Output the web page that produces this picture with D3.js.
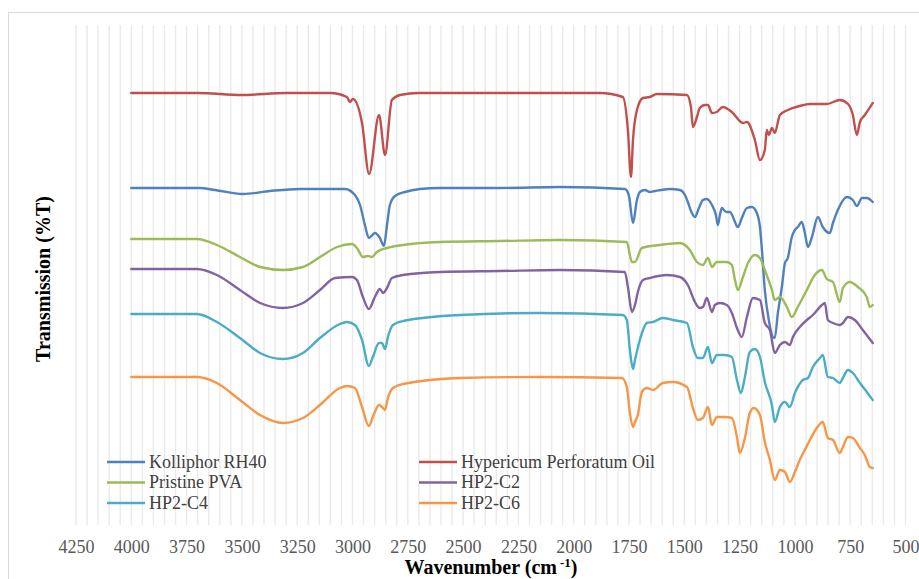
<!DOCTYPE html>
<html>
<head>
<meta charset="utf-8">
<script src="https://cdn.jsdelivr.net/npm/d3@7"></script>
<style>
  body { margin: 0; background: #fff; }
</style>
</head>
<body>
<div id="chart"></div>
<script>
// FTIR spectra. [wavenumber cm-1, offset transmission (a.u.)]
var kolliphor = [[4000,337],[3690,337],[3622,335],[3495,331],[3373,334],[3238,336],[3034,336],[2989,330],[2966,320],[2944,300],[2926,287],[2899,292],[2876,287],[2858,279],[2844,300],[2831,320],[2808,329],[2763,333],[2695,336],[2605,337],[2334,337],[2062,338],[1769,336],[1751,330],[1732,302],[1714,325],[1701,333],[1678,335],[1656,333],[1633,334],[1565,336],[1520,335],[1497,330],[1484,323],[1466,312],[1452,308],[1434,317],[1416,325],[1398,326],[1375,320],[1357,310],[1348,300],[1339,310],[1330,317],[1317,314],[1308,313],[1294,313],[1280,308],[1271,303],[1258,298],[1240,307],[1217,317],[1195,318],[1172,312],[1158,298],[1149,275],[1136,235],[1118,205],[1100,188],[1091,187],[1077,212],[1059,238],[1045,262],[1032,267],[1014,288],[1000,295],[987,298],[969,303],[955,292],[941,278],[923,288],[896,308],[874,298],[842,292],[828,302],[806,315],[765,328],[738,325],[720,319],[697,327],[675,327],[648,323]];

var hypericum = [[4000,432],[3700,432],[3500,430],[3300,432],[3100,432],[3025,428],[3012,423],[2998,426],[2957,402],[2925,351],[2880,410],[2853,370],[2822,425],[2785,430],[2700,432],[2400,432],[2100,432],[1882,432],[1778,428],[1755,395],[1741,348],[1732,385],[1714,415],[1687,427],[1656,428],[1624,431],[1488,430],[1470,418],[1461,398],[1443,408],[1430,417],[1407,420],[1393,420],[1375,412],[1353,413],[1326,418],[1285,413],[1235,402],[1217,403],[1181,385],[1158,365],[1136,375],[1127,395],[1118,390],[1104,397],[1091,392],[1068,410],[1032,415],[978,419],[932,421],[856,421],[797,425],[760,421],[738,410],[720,390],[706,403],[684,410],[648,422]];

var pristinePVA = [[4000,286],[3703,286],[3613,280],[3509,268],[3418,258],[3314,255],[3224,258],[3147,268],[3070,278],[3002,281],[2980,277],[2953,268],[2930,269],[2912,268],[2890,273],[2844,277],[2772,280],[2605,283],[2334,284],[2062,285],[1760,283],[1737,263],[1723,263],[1692,277],[1610,280],[1520,282],[1475,275],[1443,263],[1416,260],[1393,267],[1375,258],[1353,263],[1308,263],[1285,260],[1271,245],[1258,235],[1235,248],[1212,262],[1181,270],[1158,267],[1136,255],[1104,235],[1091,225],[1068,228],[1036,218],[1014,208],[987,218],[946,235],[910,250],[878,255],[856,246],[828,243],[797,223],[783,237],[752,243],[715,238],[675,228],[661,218],[648,220]];

var hp2c2 = [[4000,256],[3703,256],[3613,250],[3509,235],[3418,222],[3314,217],[3224,222],[3147,235],[3079,247],[3002,248],[2980,245],[2953,228],[2926,216],[2899,228],[2876,236],[2862,232],[2844,237],[2822,247],[2772,250],[2605,253],[2334,254],[2062,255],[1769,253],[1755,238],[1737,213],[1723,220],[1710,233],[1687,245],[1656,247],[1579,250],[1520,248],[1484,240],[1452,223],[1430,217],[1416,218],[1398,227],[1375,213],[1362,220],[1339,222],[1308,220],[1285,212],[1262,197],[1240,188],[1217,208],[1190,227],[1158,225],[1136,202],[1113,195],[1091,172],[1068,180],[1045,183],[1023,180],[1009,188],[978,198],[946,205],[919,210],[878,220],[865,222],[851,205],[828,202],[797,200],[783,202],[760,208],[729,205],[693,195],[648,182]];

var hp2c4 = [[4000,211],[3703,211],[3613,203],[3509,187],[3418,172],[3314,166],[3224,172],[3147,187],[3057,201],[3025,203],[2989,200],[2957,185],[2926,159],[2908,168],[2880,182],[2867,182],[2853,176],[2840,188],[2817,200],[2772,204],[2514,210],[2153,212],[1778,210],[1760,205],[1746,175],[1732,156],[1723,165],[1701,185],[1669,202],[1642,203],[1597,207],[1552,205],[1488,202],[1461,178],[1439,167],[1416,167],[1393,178],[1375,162],[1353,170],[1317,170],[1285,168],[1262,145],[1244,132],[1226,148],[1204,173],[1181,176],[1158,168],[1136,143],[1104,120],[1091,103],[1068,118],[1045,123],[1023,118],[1000,132],[964,145],[941,147],[919,158],[887,167],[874,170],[851,148],[828,147],[797,142],[783,147],[760,155],[738,152],[706,142],[675,133],[648,125]];

var hp2c6 = [[4000,148],[3703,148],[3613,142],[3509,125],[3418,110],[3314,102],[3224,107],[3147,120],[3057,137],[3025,139],[2989,137],[2957,118],[2926,99],[2908,108],[2880,120],[2862,117],[2853,115],[2840,127],[2817,137],[2772,141],[2514,147],[2153,148],[1782,147],[1760,138],[1746,112],[1732,98],[1723,103],[1710,110],[1692,133],[1669,137],[1642,135],[1597,142],[1552,143],[1488,138],[1461,117],[1439,105],[1416,107],[1393,118],[1375,100],[1353,108],[1317,108],[1285,107],[1262,88],[1249,72],[1226,87],[1204,112],[1186,117],[1158,110],[1136,83],[1113,65],[1091,45],[1068,55],[1045,53],[1023,43],[1000,53],[978,65],[955,75],[932,85],[901,97],[874,103],[851,87],[828,85],[797,72],[783,78],[760,88],[738,87],[706,77],[684,70],[661,58],[648,57]];

var seriesNames = ["Kolliphor RH40", "Hypericum Perforatum Oil", "Pristine PVA", "HP2-C2", "HP2-C4", "HP2-C6"];
var seriesData = [kolliphor, hypericum, pristinePVA, hp2c2, hp2c4, hp2c6];
var seriesColors = ["#4F81BD", "#C0504D", "#9BBB59", "#8064A2", "#4BACC6", "#F79646"];
var xTicks = [4250, 4000, 3750, 3500, 3250, 3000, 2750, 2500, 2250, 2000, 1750, 1500, 1250, 1000, 750, 500];

var width = 919, height = 579;
var plot = {left: 76, right: 905.5, top: 25, bottom: 525};

var svg = d3.select("#chart")
    .append("svg")
    .attr("width", width)
    .attr("height", height);

// chart border
svg.append("rect")
    .attr("x", 8.5)
    .attr("y", 12.5)
    .attr("width", 930)
    .attr("height", 600)
    .attr("fill", "none")
    .attr("stroke", "#d9d9d9")
    .attr("stroke-width", 1);

var x = d3.scaleLinear()
    .domain([4250, 500])
    .range([plot.left, plot.right]);

var y = d3.scaleLinear()
    .domain([0, 500])
    .range([plot.bottom, plot.top]);

// vertical gridlines every 50 cm-1
svg.append("g")
    .selectAll("line")
    .data(d3.range(500, 4251, 50))
    .join("line")
    .attr("x1", d => x(d))
    .attr("x2", d => x(d))
    .attr("y1", plot.top)
    .attr("y2", plot.bottom)
    .attr("stroke", "#eaeaea")
    .attr("stroke-width", 1.4);

var xAxis = g => g
    .attr("transform", `translate(0,${plot.bottom})`)
    .call(d3.axisBottom(x).tickValues(xTicks).tickFormat(d3.format("d")).tickSize(0).tickPadding(15))
    .call(g => g.select(".domain").remove())
    .call(g => g.selectAll("text")
        .attr("fill", "#595959")
        .style("font-family", "'Liberation Serif', serif")
        .style("font-size", "18px"));

svg.append("g").call(xAxis);

var line = d3.line()
    .x(d => x(d[0]))
    .y(d => y(d[1]))
    .curve(d3.curveMonotoneX);

svg.append("g")
    .selectAll("path")
    .data(seriesData)
    .join("path")
    .attr("d", d => line(d.slice().sort((a, b) => a[0] - b[0])))
    .attr("fill", "none")
    .attr("stroke", (d, i) => seriesColors[i])
    .attr("stroke-width", 2.4)
    .attr("stroke-linejoin", "round")
    .attr("stroke-linecap", "round");

// legend, two columns
var legend = svg.append("g")
    .selectAll("g")
    .data(seriesNames)
    .join("g")
    .attr("transform", (d, i) => `translate(${i % 2 == 0 ? 107 : 419},${462 + Math.floor(i / 2) * 20.5})`);

legend.append("line")
    .attr("x1", 0)
    .attr("x2", 38)
    .attr("stroke", (d, i) => seriesColors[i])
    .attr("stroke-width", 2.4);

legend.append("text")
    .attr("x", 42)
    .attr("dy", "0.33em")
    .attr("fill", "#404040")
    .style("font-family", "'Liberation Serif', serif")
    .style("font-size", "18px")
    .text(d => d);

// axis titles
var xTitle = svg.append("text")
    .attr("x", 491)
    .attr("y", 574)
    .attr("text-anchor", "middle")
    .attr("fill", "#000")
    .style("font-family", "'Liberation Serif', serif")
    .style("font-size", "20px")
    .style("font-weight", "bold");
xTitle.append("tspan").text("Wavenumber (cm");
xTitle.append("tspan").attr("dx", 3).attr("dy", -7).style("font-size", "13px").text("-1");
xTitle.append("tspan").attr("dy", 7).text(")");

svg.append("text")
    .attr("transform", "translate(50,279) rotate(-90)")
    .attr("text-anchor", "middle")
    .attr("fill", "#000")
    .style("font-family", "'Liberation Serif', serif")
    .style("font-size", "20px")
    .style("font-weight", "bold")
    .text("Transmission (%T)");
</script>
</body>
</html>
